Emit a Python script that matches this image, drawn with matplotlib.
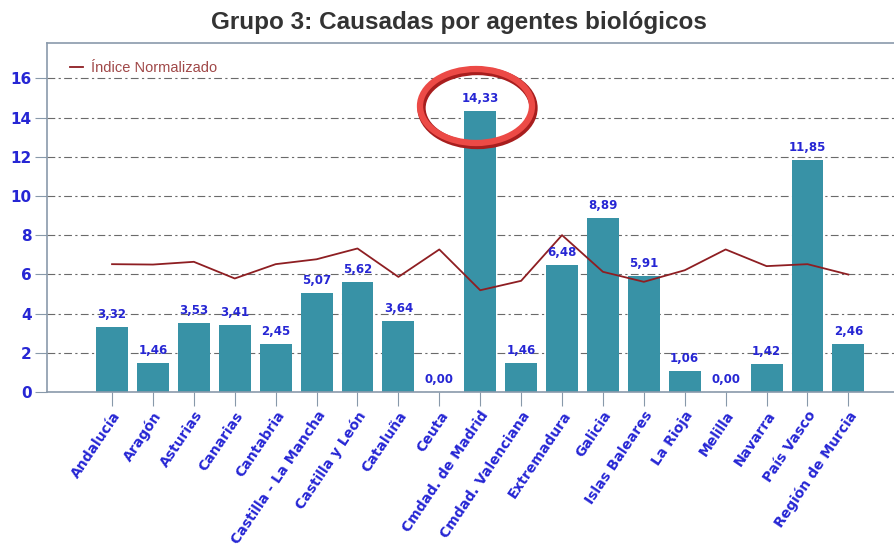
import matplotlib
matplotlib.use("Agg")
import matplotlib.pyplot as plt
from matplotlib.patches import Ellipse

regions = ["Andalucía", "Aragón", "Asturias", "Canarias", "Cantabria",
           "Castilla - La Mancha", "Castilla y León", "Cataluña", "Ceuta",
           "Cmdad. de Madrid", "Cmdad. Valenciana", "Extremadura", "Galicia",
           "Islas Baleares", "La Rioja", "Melilla", "Navarra", "País Vasco",
           "Región de Murcia"]
bar_values = [3.32, 1.46, 3.53, 3.41, 2.45, 5.07, 5.62, 3.64, 0.00,
              14.33, 1.46, 6.48, 8.89, 5.91, 1.06, 0.00, 1.42, 11.85, 2.46]
indice_normalizado = [6.52, 6.50, 6.64, 5.79, 6.52, 6.77, 7.32, 5.87, 7.27,
                      5.19, 5.67, 8.00, 6.13, 5.62, 6.21, 7.27, 6.42, 6.52, 5.99]
y_ticks = [0, 2, 4, 6, 8, 10, 12, 14, 16]

BAR = "#3892a6"
BLUE = "#2626d4"
LINE = "#8e1e22"

fig = plt.figure(figsize=(8.95, 5.51), dpi=100)
fig.patch.set_facecolor("white")
ax = fig.add_axes([47/895, 1-392/551, 1-47/895, (392-43)/551])

x = list(range(len(regions)))
ax.bar(x, bar_values, width=0.78, color=BAR, zorder=2)
ax.plot(x, indice_normalizado, color=LINE, lw=1.3, zorder=3, label="Índice Normalizado")

for xi, v in zip(x, bar_values):
    ax.text(xi, v + 0.3, f"{v:.2f}".replace(".", ","), ha="center", va="bottom",
            color=BLUE, fontsize=8.5, fontweight="bold", family="DejaVu Sans", zorder=4)

ax.set_xlim(-1.59, 19.14)
ax.set_ylim(0, 17.8)
ax.set_yticks(y_ticks)
ax.set_yticklabels([str(t) for t in y_ticks], color=BLUE, fontweight="bold",
                   fontsize=11, family="DejaVu Sans")
ax.set_xticks(x)
ax.set_xticklabels(regions, rotation=56, ha="right", rotation_mode="anchor",
                   color=BLUE, fontweight="bold", fontsize=10, family="DejaVu Sans")
ax.tick_params(axis="y", length=9, color="#8899aa", pad=2)
ax.tick_params(axis="x", length=10, color="#8899aa", pad=2)

ax.yaxis.grid(True, color="#6a6a6a", lw=0.8, linestyle=(0, (7, 3, 2, 3)), zorder=1)
ax.set_axisbelow(True)
for s in ["left", "bottom", "top"]:
    ax.spines[s].set_color("#8a9aab")
    ax.spines[s].set_linewidth(1.2)
ax.spines["right"].set_visible(False)

leg = ax.legend(loc="upper left", bbox_to_anchor=(0.012, 0.985), frameon=False,
                handlelength=0.9, handletextpad=0.5,
                prop={"family": "Liberation Sans", "size": 10.5})
for t in leg.get_texts():
    t.set_color("#a04848")

fig.text(0.513, 1-22/551, "Grupo 3: Causadas por agentes biológicos",
         ha="center", va="center", fontsize=17.5, fontweight="bold",
         family="Liberation Sans", color="#333333")

# red highlight ellipse around the Madrid label
cx, cy, w, h = 476/895, 1-106/551, 112/895, 74/551
fig.add_artist(Ellipse((cx + 1.5/895, cy - 2/551), w, h, transform=fig.transFigure,
                       fill=False, edgecolor="#a81e1e", lw=6, zorder=10))
fig.add_artist(Ellipse((cx, cy), w, h, transform=fig.transFigure,
                       fill=False, edgecolor="#ec4a46", lw=4.5, zorder=11))

fig.savefig("out.png", dpi=100, facecolor="white")
